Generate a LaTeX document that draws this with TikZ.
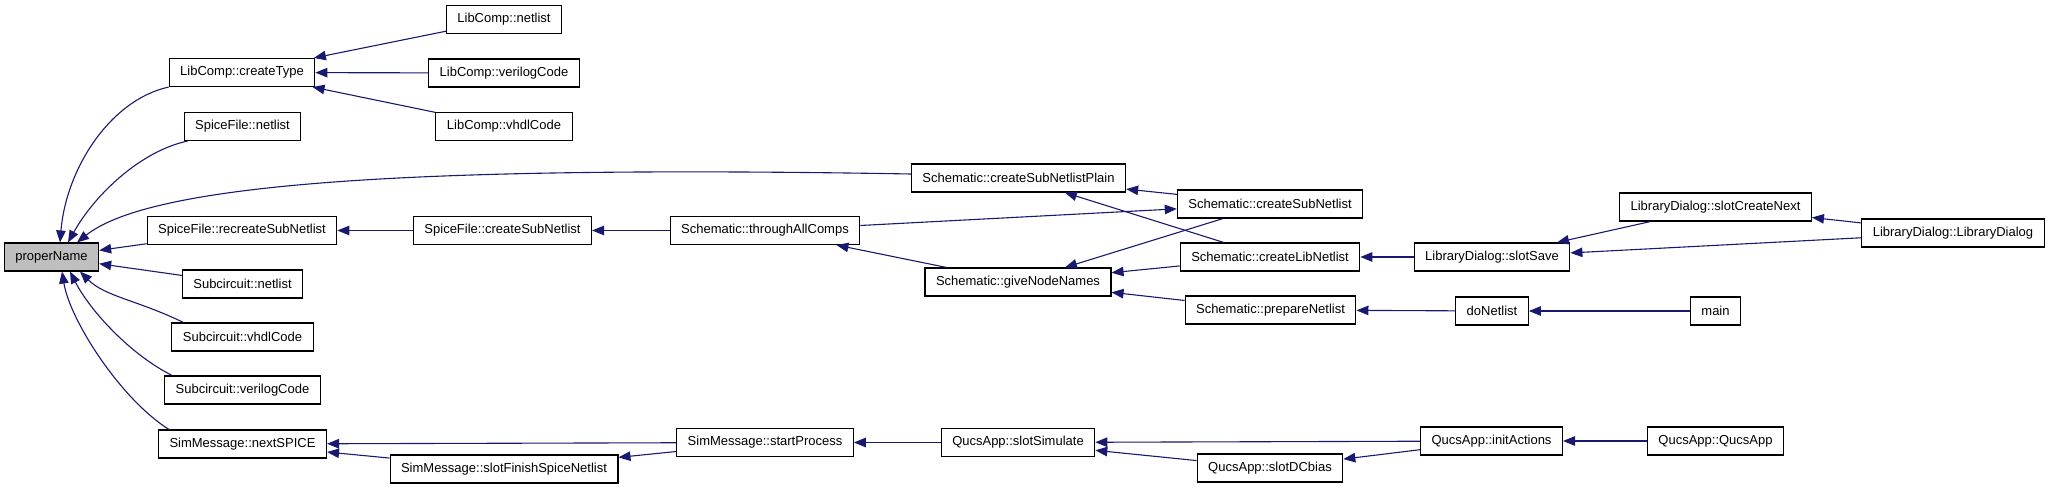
\documentclass[tikz,border=0pt]{standalone}
\usepackage{fontspec}
\setmainfont{Liberation Sans}
\usepackage{xcolor}
\usepackage{tikz}
\usetikzlibrary{arrows.meta}
\definecolor{edgeblue}{HTML}{191970}

\begin{document}
\begin{tikzpicture}[
  x=1pt, y=-1pt,
  fn/.style={draw, fill=white, line width=1.1pt, minimum height=28pt, inner xsep=11pt, font=\fontsize{13}{15}\selectfont},
  root/.style={fn, fill=black!25},
  call/.style={draw=edgeblue, line width=1.1pt, -{Triangle[length=12pt, width=9.5pt]}}
]
\useasboundingbox (0,0) rectangle (2051,489);

\node[root] (propername) at (51.5,257) {properName};
\node[fn] (createtype) at (242,72.5) {LibComp::createType};
\node[fn] (sfnetlist) at (242.5,126.5) {SpiceFile::netlist};
\node[fn] (sfrecreate) at (242,230.5) {SpiceFile::recreateSubNetlist};
\node[fn] (scnetlist) at (242.5,284) {Subcircuit::netlist};
\node[fn] (scvhdl) at (242.5,337) {Subcircuit::vhdlCode};
\node[fn] (scverilog) at (242.5,390) {Subcircuit::verilogCode};
\node[fn] (nextspice) at (242.5,444) {SimMessage::nextSPICE};
\node[fn] (lcnetlist) at (504,19.5) {LibComp::netlist};
\node[fn] (lcverilog) at (504,73) {LibComp::verilogCode};
\node[fn] (lcvhdl) at (504,126.5) {LibComp::vhdlCode};
\node[fn] (sfcreatesub) at (502.5,230.5) {SpiceFile::createSubNetlist};
\node[fn] (finishspice) at (504,469) {SimMessage::slotFinishSpiceNetlist};
\node[fn] (throughall) at (765,230.5) {Schematic::throughAllComps};
\node[fn] (startprocess) at (765,442.5) {SimMessage::startProcess};
\node[fn] (createsubplain) at (1018.5,178) {Schematic::createSubNetlistPlain};
\node[fn] (givenames) at (1018,282) {Schematic::giveNodeNames};
\node[fn] (slotsimulate) at (1018,442.5) {QucsApp::slotSimulate};
\node[fn] (createsub) at (1270,204) {Schematic::createSubNetlist};
\node[fn] (createlib) at (1270,257) {Schematic::createLibNetlist};
\node[fn] (preparenet) at (1270.5,310) {Schematic::prepareNetlist};
\node[fn] (slotdcbias) at (1270,468) {QucsApp::slotDCbias};
\node[fn] (slotsave) at (1492,257) {LibraryDialog::slotSave};
\node[fn] (donetlist) at (1492,311) {doNetlist};
\node[fn] (initactions) at (1491.5,441) {QucsApp::initActions};
\node[fn] (slotcreatenext) at (1715.5,207) {LibraryDialog::slotCreateNext};
\node[fn] (main) at (1715.5,311) {main};
\node[fn] (qucsapp) at (1715.5,441) {QucsApp::QucsApp};
\node[fn] (librarydialog) at (1953,233) {LibraryDialog::LibraryDialog};

% callers of properName
\draw[call] (createtype.south west) .. controls +(-59,13) and +(6,-73) .. ([xshift=8.5pt]propername.north);
\draw[call] ([xshift=4pt]sfnetlist.south west) .. controls +(-47,10) and +(27,-48) .. ([xshift=16.5pt]propername.north);
\draw[call] ([yshift=4pt]createsubplain.west) .. controls +(-509,-9) and +(73,-58) .. ([xshift=25.5pt]propername.north);
\draw[call] (sfrecreate) -- (propername);
\draw[call] (scnetlist) -- (propername);
\draw[call] ([xshift=12pt]scvhdl.north west) .. controls +(-45,-22) and +(25,25) .. ([xshift=28.5pt]propername.south);
\draw[call] ([xshift=8pt]scverilog.north west) .. controls +(-42,-21) and +(20,39) .. ([xshift=18.5pt]propername.south);
\draw[call] ([xshift=11pt]nextspice.north west) .. controls +(-48,-30) and +(8,49) .. ([xshift=10.5pt]propername.south);

\draw[call] (lcnetlist) -- (createtype);
\draw[call] (lcverilog) -- (createtype);
\draw[call] (lcvhdl) -- (createtype);
\draw[call] (sfcreatesub) -- (sfrecreate);
\draw[call] (throughall) -- (sfcreatesub);
\draw[call] (throughall) -- (createsub);
\draw[call] (givenames) -- (throughall);
\draw[call] (createsub) -- (createsubplain);
\draw[call] (createlib) -- (createsubplain);
\draw[call] (createsub) -- (givenames);
\draw[call] (createlib) -- (givenames);
\draw[call] (preparenet) -- (givenames);
\draw[call] (slotsave) -- (createlib);
\draw[call] (slotcreatenext) -- (slotsave);
\draw[call] (librarydialog) -- (slotcreatenext);
\draw[call] (librarydialog) -- (slotsave);
\draw[call] (donetlist) -- (preparenet);
\draw[call] (main) -- (donetlist);

\draw[call] (startprocess) -- (nextspice);
\draw[call] (finishspice) -- (nextspice);
\draw[call] (startprocess) -- (finishspice);
\draw[call] (slotsimulate) -- (startprocess);
\draw[call] (initactions) -- (slotsimulate);
\draw[call] (slotdcbias) -- (slotsimulate);
\draw[call] (initactions) -- (slotdcbias);
\draw[call] (qucsapp) -- (initactions);
\end{tikzpicture}
\end{document}
